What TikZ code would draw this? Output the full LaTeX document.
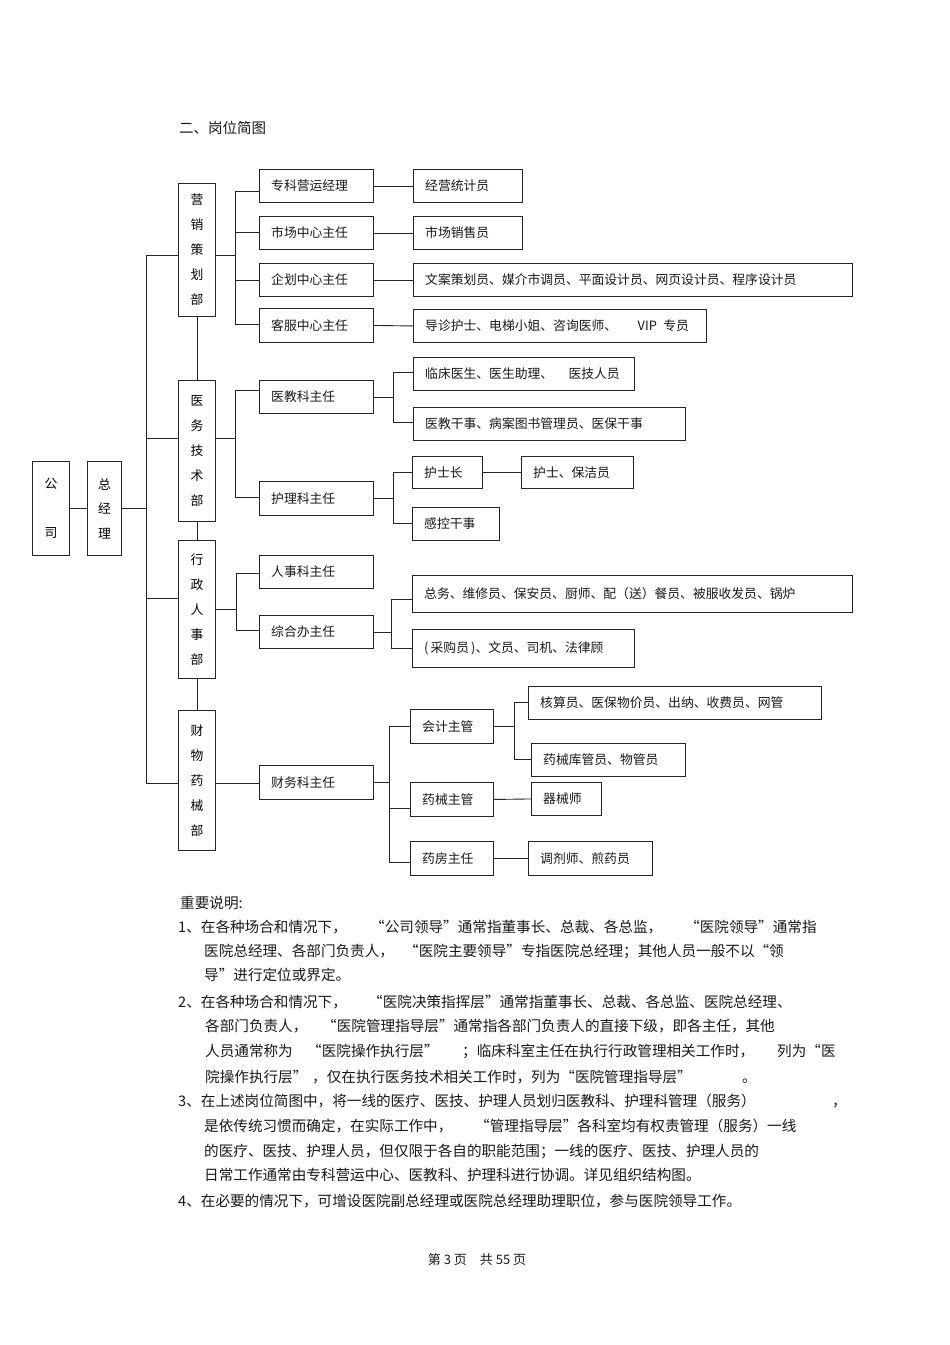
\documentclass[tikz,border=0pt]{standalone}
\usepackage{fontspec}
\setmainfont{Noto Sans CJK SC}
\newcommand\hb[6]{%
  \node[boxs, minimum width={(#4-#2)*1pt}, minimum height={(#5-#3)*1pt}] (#1) at (#2,#3) {};
  \node[btxt] (#1-t) at ([xshift=12pt]#1.west) {#6};}
\newcommand\vb[7]{%
  \node[boxs, minimum width={(#4-#2)*1pt}, minimum height={(#5-#3)*1pt}, align=center, font=\fontsize{12.8}{#7}\selectfont] (#1) at (#2,#3) {#6};}
\begin{document}
\begin{tikzpicture}[x=1pt,y=-1pt,
  boxs/.style={draw=black!85, line width=0.9pt, inner sep=0pt, anchor=north west},
  btxt/.style={anchor=west, inner sep=0pt, font=\fontsize{12.8}{15}\selectfont, text=black!90},
  ln/.style={draw=black!85, line width=0.9pt},
  note/.style={anchor=base west, inner sep=0pt, font=\fontsize{14.6}{17}\selectfont, text=black!90}]
\useasboundingbox (0,0) rectangle (950,1345);
\fill[white] (0,0) rectangle (950,1345);

\node[note, font=\fontsize{14.5}{17}\selectfont] (title) at (179,133) {二、岗位简图};

% level 0
\vb{gs}{32}{461}{69}{555}{公\\司}{49}
\vb{zjl}{87}{461}{121}{555}{总\\经\\理}{24.5}
% departments
\vb{d1}{178}{183}{215}{316}{营\\销\\策\\划\\部}{25}
\vb{d2}{178}{380}{215}{521}{医\\务\\技\\术\\部}{25}
\vb{d3}{178}{540}{215}{678}{行\\政\\人\\事\\部}{25}
\vb{d4}{178}{710}{215}{850}{财\\物\\药\\械\\部}{25}
% second level
\hb{a1}{259}{169}{373}{202}{专科营运经理}
\hb{a2}{259}{216}{373}{249}{市场中心主任}
\hb{a3}{259}{263}{373}{296}{企划中心主任}
\hb{a4}{259}{308}{373}{342}{客服中心主任}
\hb{b1}{259}{380}{373}{413}{医教科主任}
\hb{b2}{259}{481}{373}{515}{护理科主任}
\hb{c1}{259}{555}{373}{588}{人事科主任}
\hb{c2}{259}{615}{373}{648}{综合办主任}
\hb{e1}{259}{765}{373}{799}{财务科主任}
% third level
\hb{a1x}{413}{169}{522}{202}{经营统计员}
\hb{a2x}{413}{216}{522}{249}{市场销售员}
\hb{a3x}{413}{263}{852}{296}{文案策划员、媒介市调员、平面设计员、网页设计员、程序设计员}
\hb{a4x}{413}{309}{706}{342}{导诊护士、电梯小姐、咨询医师、\hspace{1.6em}VIP\hspace{0.5em}专员}
\hb{b1x}{413}{357}{634}{390}{临床医生、医生助理、\hspace{1.2em}医技人员}
\hb{b1y}{413}{407}{685}{440}{医教干事、病案图书管理员、医保干事}
\hb{b2x}{412}{456}{482}{488}{护士长}
\hb{b2xx}{521}{456}{633}{488}{护士、保洁员}
\hb{b2y}{412}{507}{499}{540}{感控干事}
\hb{c2x}{412}{575}{852}{612}{总务、维修员、保安员、厨师、配（送）餐员、被服收发员、锅炉}
\hb{c2y}{412}{629}{634}{667}{(\,采购员\,)、文员、司机、法律顾}
\hb{e1a}{410}{709}{493}{743}{会计主管}
\hb{e1b}{410}{782}{493}{816}{药械主管}
\hb{e1c}{410}{841}{493}{875}{药房主任}
\hb{e1ax}{528}{686}{821}{719}{核算员、医保物价员、出纳、收费员、网管}
\hb{e1ay}{531}{743}{685}{776}{药械库管员、物管员}
\hb{e1bx}{531}{782}{601}{815}{器械师}
\hb{e1cx}{528}{841}{652}{875}{调剂师、煎药员}

% bus coordinates
\coordinate (T1) at (146,255);
\coordinate (T2) at (146,438);
\coordinate (T3) at (146,598);
\coordinate (T4) at (146,783);
\coordinate (A1) at (235,191);
\coordinate (A2) at (235,232);
\coordinate (A3) at (235,280);
\coordinate (A4) at (235,324);
\coordinate (B1) at (235,390);
\coordinate (B2) at (235,497);
\coordinate (C1) at (393,372);
\coordinate (C2) at (393,422);
\coordinate (D1) at (393,472);
\coordinate (D2) at (393,523);
\coordinate (E1) at (236,573);
\coordinate (E2) at (236,630);
\coordinate (F1) at (391,599);
\coordinate (F2) at (391,648);
\coordinate (G1) at (389,726);
\coordinate (G2) at (389,808);
\coordinate (G3) at (389,862);
\coordinate (H1) at (514,702);
\coordinate (H2) at (514,759);

% connectors
\draw[ln] (gs.east) -- (zjl.west);
\draw[ln] (zjl.east) -- (zjl.east -| T1);
\draw[ln] (T1) -- (T4);
\draw[ln] (T1) -- (T1 -| d1.west);
\draw[ln] (T2) -- (T2 -| d2.west);
\draw[ln] (T3) -- (T3 -| d3.west);
\draw[ln] (T4) -- (T4 -| d4.west);
\draw[ln] (d1.south) -- (d2.north);
\draw[ln] (d2.south) -- (d3.north);
\draw[ln] (d3.south) -- (d4.north);
% marketing
\draw[ln] (T1 -| d1.east) -- (T1 -| A1);
\draw[ln] (A1) -- (A4);
\draw[ln] (A1) -- (A1 -| a1.west);
\draw[ln] (A2) -- (A2 -| a2.west);
\draw[ln] (A3) -- (A3 -| a3.west);
\draw[ln] (A4) -- (A4 -| a4.west);
\draw[ln] (a1.east) -- (a1x.west);
\draw[ln] (a2.east) -- (a2x.west);
\draw[ln] (a3.east) -- (a3x.west);
\draw[ln] (a4.east) -- (a4x.west);
% medical
\draw[ln] (T2 -| d2.east) -- (T2 -| B1);
\draw[ln] (B1) -- (B2);
\draw[ln] (B1) -- (B1 -| b1.west);
\draw[ln] (B2) -- (B2 -| b2.west);
\draw[ln] (b1.east) -- (b1.east -| C1);
\draw[ln] (C1) -- (C2);
\draw[ln] (C1) -- (C1 -| b1x.west);
\draw[ln] (C2) -- (C2 -| b1y.west);
\draw[ln] (b2.east) -- (b2.east -| D1);
\draw[ln] (D1) -- (D2);
\draw[ln] (D1) -- (D1 -| b2x.west);
\draw[ln] (D2) -- (D2 -| b2y.west);
\draw[ln] (b2x.east) -- (b2xx.west);
% admin
\draw[ln] (d3.east) -- (d3.east -| E1);
\draw[ln] (E1) -- (E2);
\draw[ln] (E1) -- (E1 -| c1.west);
\draw[ln] (E2) -- (E2 -| c2.west);
\draw[ln] (c2.east) -- (c2.east -| F1);
\draw[ln] (F1) -- (F2);
\draw[ln] (F1) -- (F1 -| c2x.west);
\draw[ln] (F2) -- (F2 -| c2y.west);
% finance
\draw[ln] (T4 -| d4.east) -- (T4 -| e1.west);
\draw[ln] (e1.east) -- (e1.east -| G1);
\draw[ln] (G1) -- (G3);
\draw[ln] (G1) -- (G1 -| e1a.west);
\draw[ln] (G2) -- (G2 -| e1b.west);
\draw[ln] (G3) -- (G3 -| e1c.west);
\draw[ln] (e1a.east) -- (e1a.east -| H1);
\draw[ln] (H1) -- (H2);
\draw[ln] (H1) -- (H1 -| e1ax.west);
\draw[ln] (H2) -- (H2 -| e1ay.west);
\draw[ln] (e1b.east) -- (e1bx.west);
\draw[ln] (e1c.east) -- (e1cx.west);

% notes
\node[note] (n0) at (180,908) {重要说明:};
\node[note] (n1a) at (178,932) {1、在各种场合和情况下，};
\node[note] (n1b) at (370,932) {“公司领导”通常指董事长、总裁、各总监，};
\node[note] (n1c) at (685,932) {“医院领导”通常指};
\node[note] (n2a) at (204,956) {医院总经理、各部门负责人，};
\node[note] (n2b) at (404,956) {“医院主要领导”专指医院总经理；其他人员一般不以“领};
\node[note] (n3a) at (204,980) {导”进行定位或界定。};
\node[note] (n4a) at (178,1007) {2、在各种场合和情况下，};
\node[note] (n4b) at (368,1007) {“医院决策指挥层”通常指董事长、总裁、各总监、医院总经理、};
\node[note] (n5a) at (205,1031) {各部门负责人，};
\node[note] (n5b) at (322,1031) {“医院管理指导层”通常指各部门负责人的直接下级，即各主任，其他};
\node[note] (n6a) at (205,1056) {人员通常称为};
\node[note] (n6b) at (307,1056) {“医院操作执行层”};
\node[note] (n6c) at (462,1056) {；临床科室主任在执行行政管理相关工作时，};
\node[note] (n6d) at (777,1056) {列为“医};
\node[note] (n7a) at (205,1082) {院操作执行层”};
\node[note] (n7b) at (312,1082) {，仅在执行医务技术相关工作时，列为“医院管理指导层”};
\node[note] (n7c) at (742,1082) {。};
\node[note] (n8a) at (178,1106) {3、在上述岗位简图中，将一线的医疗、医技、护理人员划归医教科、护理科管理（服务）};
\node[note] (n8b) at (832,1106) {，};
\node[note] (n9a) at (204,1131) {是依传统习惯而确定，在实际工作中，};
\node[note] (n9b) at (475,1131) {“管理指导层”各科室均有权责管理（服务）一线};
\node[note] (n10) at (204,1156) {的医疗、医技、护理人员，但仅限于各自的职能范围；一线的医疗、医技、护理人员的};
\node[note] (n11) at (204,1180) {日常工作通常由专科营运中心、医教科、护理科进行协调。详见组织结构图。};
\node[note] (n12) at (178,1206) {4、在必要的情况下，可增设医院副总经理或医院总经理助理职位，参与医院领导工作。};
\node[note, anchor=base, font=\fontsize{13}{15}\selectfont] (foot) at (477,1264) {第 3 页\quad 共 55 页};
\end{tikzpicture}
\end{document}
